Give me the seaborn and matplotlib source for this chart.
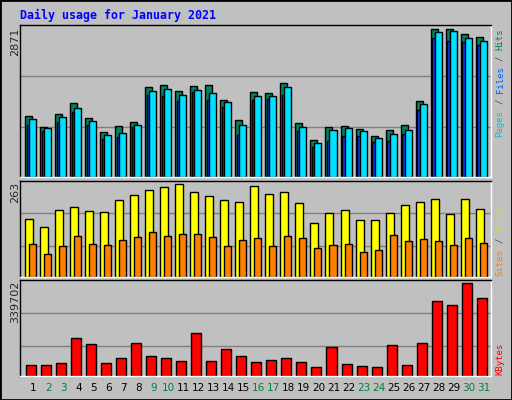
import matplotlib
matplotlib.use("Agg")
import matplotlib.pyplot as plt
import matplotlib.patches as mpatches
import seaborn as sns
import numpy as np

# ---- data ----
days = list(range(1, 32))
weekend = [2, 3, 9, 10, 16, 17, 23, 24, 30, 31]
hits = [1175, 961, 1214, 1428, 1136, 864, 980, 1058, 1740, 1779, 1662, 1760, 1779, 1487, 1097,
        1643, 1623, 1818, 1039, 708, 961, 980, 922, 786, 903, 1000, 1468, 2871, 2871, 2773, 2714]
files = [1117, 942, 1156, 1331, 1078, 805, 844, 1000, 1662, 1701, 1584, 1682, 1623, 1448, 1000,
         1565, 1565, 1740, 961, 649, 903, 942, 883, 747, 825, 903, 1409, 2812, 2831, 2695, 2636]
pages = [1000, 883, 1058, 1253, 1000, 727, 766, 961, 1584, 1565, 1468, 1643, 1487, 1350, 805,
         1487, 1506, 1584, 883, 571, 688, 786, 786, 669, 688, 825, 1292, 2695, 2636, 2617, 2558]
visits = [163, 141, 189, 198, 186, 183, 217, 232, 246, 254, 263, 240, 229, 217, 212,
          257, 235, 240, 209, 152, 180, 189, 160, 160, 180, 203, 212, 220, 178, 220, 192]
sites = [92, 64, 86, 115, 92, 89, 103, 112, 126, 115, 121, 121, 112, 86, 103,
         109, 86, 115, 109, 81, 89, 92, 69, 75, 118, 101, 106, 101, 89, 109, 95]
kbytes = [38400, 38400, 45900, 138800, 116600, 45900, 64500, 120300, 71900, 64500, 53300, 157400,
          53300, 97900, 71900, 49600, 57000, 64500, 49600, 31000, 105300, 42100, 34700, 31000,
          112800, 38400, 120300, 276500, 261600, 339702, 287600]

sns.set_style("white")
BG = "#C0C0C0"
fig = plt.figure(figsize=(5.12, 4.0), dpi=100, facecolor=BG)
fig.patches.append(mpatches.Rectangle((0, 0), 1, 1, transform=fig.transFigure,
                                      fill=False, edgecolor="black", lw=2))

x = np.array(days, dtype=float)
left, width = 20 / 512, 471 / 512
xlim = (1 - 5.3 / 15, 31 + 15.4 / 15)
w = 7 / 15

def panel(bottom, height, ymax, grids):
    ax = fig.add_axes([left, bottom, width, height])
    ax.set_facecolor(BG)
    ax.set_xlim(*xlim)
    ax.set_ylim(0, ymax)
    for g in grids:
        ax.axhline(g, color="#808080", lw=1, zorder=0)
    ax.set_xticks([])
    ax.set_yticks([])
    for s in ax.spines.values():
        s.set_color("black")
        s.set_linewidth(1)
    ax.spines["right"].set_color("white")
    ax.spines["bottom"].set_color("white")
    return ax

# Hits / Files / Pages
ax1 = panel(1 - 176.7 / 400, 151.7 / 400, 2955, [962, 1956])
ax1.bar(x, hits, width=w, align="edge", color="#00805C", edgecolor="black", lw=1)
ax1.bar(x + 0.1, pages, width=w, align="edge", color="#0040FF", edgecolor="black", lw=1)
ax1.bar(x + 4 / 15, files, width=w, align="edge", color="#00E0FF", edgecolor="black", lw=1)

# Visits / Sites
ax2 = panel(1 - 276.7 / 400, 96 / 400, 272, [86, 180])
ax2.bar(x, visits, width=8 / 15, align="edge", color="#FFFF00", edgecolor="black", lw=1)
ax2.bar(x + 4 / 15, sites, width=w, align="edge", color="#FF8000", edgecolor="black", lw=1)

# KBytes
ax3 = panel(1 - 375.7 / 400, 95.7 / 400, 352200, [110400, 231900])
ax3.bar(x + 1 / 15, kbytes, width=10 / 15, align="edge", color="#FF0000", edgecolor="black", lw=1)

mono = "DejaVu Sans Mono"
fig.text(20 / 512, 1 - 15 / 400, "Daily usage for January 2021", family=mono, weight="bold",
         fontsize=8.4, color="#0000FF", va="center", ha="left")

# max labels on left
for ytop, lab in [(28, str(max(hits))), (182, str(max(visits))), (281, str(max(kbytes)))]:
    fig.text(15 / 512, 1 - ytop / 400, lab, rotation=90, ha="center", va="top", fontsize=8)

# right side legends (bottom-to-top)
def side(ybottom, parts):
    y = ybottom
    for txt, col in parts:
        fig.text(500 / 512, 1 - y / 400, txt, rotation=90, family=mono, fontsize=6.5,
                 color=col, ha="center", va="bottom")
        y -= (len(txt) + 1) * 5.45

side(137, [("Pages", "#00C0E0"), ("/", "#505050"), ("Files", "#0060FF"),
           ("/", "#505050"), ("Hits", "#00805C")])
side(276, [("Sites", "#FF8000"), ("/", "#505050"), ("Visits", "#E0E000")])
side(375, [("KBytes", "#FF0000")])

for d in days:
    col = "#008040" if d in weekend else "black"
    ax3.text(d + 0.53, -0.13, str(d), transform=ax3.get_xaxis_transform(),
             ha="center", va="center", fontsize=7.5, color=col)

fig.savefig("out.png", dpi=100, facecolor=BG)
